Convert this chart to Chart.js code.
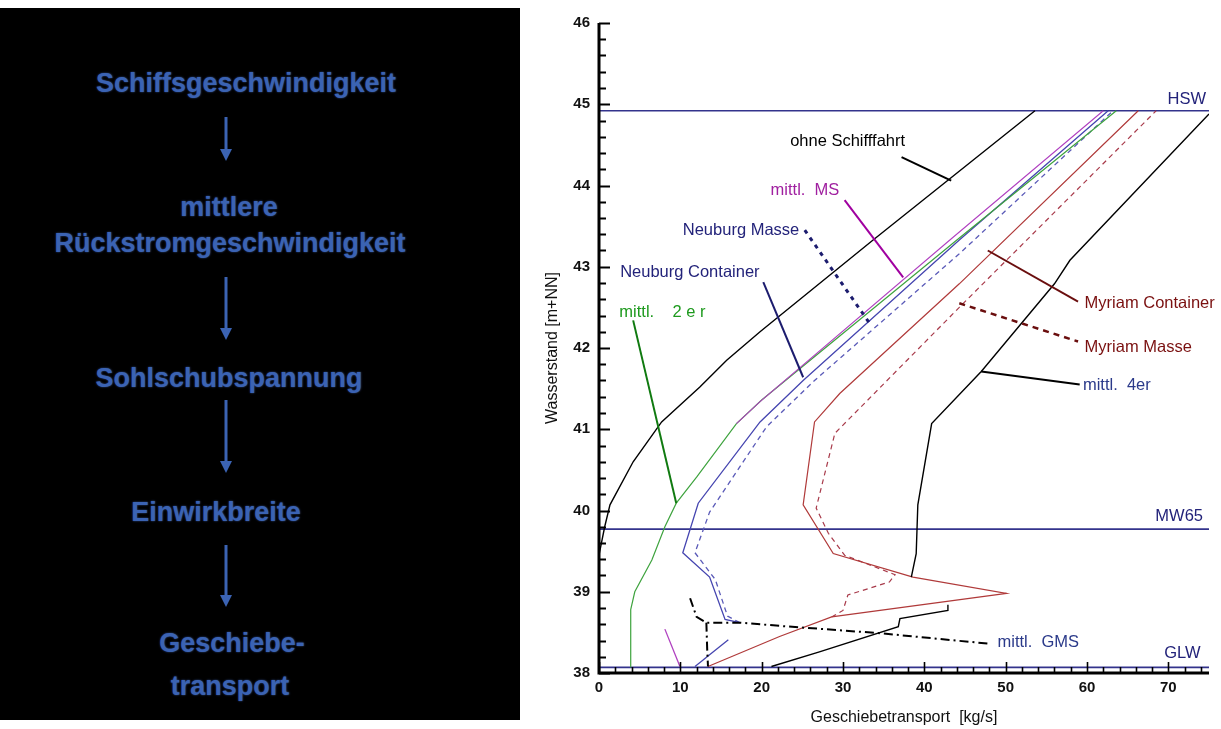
<!DOCTYPE html>
<html>
<head>
<meta charset="utf-8">
<script src="https://cdn.jsdelivr.net/npm/chart.js@4.4.1/dist/chart.umd.min.js"></script>
<style>
  html, body { margin: 0; padding: 0; background: #fff; width: 1221px; height: 729px; overflow: hidden;
    font-family: "Liberation Sans", Arial, sans-serif; }
  #panel { position: absolute; left: 0; top: 8px; width: 520px; height: 712px; background: #000; }
  .step { position: absolute; width: 500px; text-align: center; font-weight: bold; font-size: 27px;
    line-height: 27px; color: #3b63b3; white-space: nowrap; text-shadow: 0 0 2px rgba(70, 110, 200, 0.75); }
  #arrows { position: absolute; left: 0; top: 0; }
  #chartBox { position: absolute; left: 530px; top: 0; width: 691px; height: 729px; }
</style>
</head>
<body>
<div id="panel"></div>
<div class="step" style="left:-4px; top:70px;">Schiffsgeschwindigkeit</div>
<div class="step" style="left:-21px; top:194px;">mittlere</div>
<div class="step" style="left:-20px; top:230px;">Rückstromgeschwindigkeit</div>
<div class="step" style="left:-21px; top:365px;">Sohlschubspannung</div>
<div class="step" style="left:-34px; top:499px;">Einwirkbreite</div>
<div class="step" style="left:-18px; top:630px;">Geschiebe-</div>
<div class="step" style="left:-20px; top:673px;">transport</div>
<svg id="arrows" width="520" height="729">
  <g stroke="#3b63b3" stroke-width="3" fill="#3b63b3">
    <line x1="226" y1="117" x2="226" y2="150"/><polygon points="220,149 232,149 226,161" stroke="none"/>
    <line x1="226" y1="277" x2="226" y2="329"/><polygon points="220,328 232,328 226,340" stroke="none"/>
    <line x1="226" y1="400" x2="226" y2="462"/><polygon points="220,461 232,461 226,473" stroke="none"/>
    <line x1="226" y1="545" x2="226" y2="596"/><polygon points="220,595 232,595 226,607" stroke="none"/>
  </g>
</svg>
<div id="chartBox"><canvas id="c" width="691" height="729"></canvas></div>
<script>
// Geschiebetransport [kg/s] vs. Wasserstand [m+NN], each point = [transport, wasserstand]
const ohneSchifffahrt = [[0,39.45],[0.7,39.8],[1.35,40.07],[4.2,40.6],[7.7,41.09],[12.4,41.52],[15.7,41.85],[19.8,42.2],[33.7,43.33],[53.6,44.92]];
const mittlMS = [[16.9,41.07],[19.8,41.34],[43.5,43.36],[62.0,44.92]];
const mittlMSUnten = [[8.1,38.54],[9.95,38.08]];
const mittl2er = [[3.9,38.07],[3.9,38.78],[4.4,39.0],[6.5,39.39],[8.1,39.8],[9.5,40.09],[12.0,40.41],[16.9,41.07],[20.0,41.36],[44.0,43.33],[63.6,44.92]];
const neuburgContainer = [[17.3,38.62],[15.5,38.66],[13.6,39.18],[10.3,39.48],[12.2,40.09],[19.8,41.09],[25.1,41.6],[44.3,43.33],[62.6,44.92]];
const neuburgContainerUnten = [[11.8,38.08],[15.9,38.41]];
const neuburgMasse = [[17.3,38.62],[15.8,38.7],[14.3,39.15],[11.8,39.48],[13.6,39.98],[20.6,41.03],[26.5,41.6],[44.3,43.16],[63.2,44.92]];
const myriamContainer = [[13.4,38.08],[22.2,38.45],[28.6,38.69],[50.1,38.98],[38.6,39.18],[28.8,39.47],[25.1,40.07],[26.5,41.09],[29.6,41.44],[44.3,42.79],[66.3,44.92]];
const myriamMasse = [[28.6,38.69],[30.0,38.77],[30.6,38.96],[35.7,39.12],[36.4,39.21],[30.2,39.45],[28.2,39.72],[26.7,40.03],[29.0,40.95],[44.3,42.5],[68.5,44.92]];
const mittl4er = [[38.4,39.18],[39.0,39.47],[39.2,40.07],[40.9,41.07],[47.0,41.71],[56.0,42.79],[57.9,43.08],[75.0,44.88]];
const mittl4erUnten = [[21.2,38.08],[27.1,38.26],[36.8,38.57],[37.0,38.67],[42.9,38.77],[42.9,38.84]];
const mittlGMS = [[11.2,38.92],[12.0,38.69],[13.2,38.62],[17.3,38.62],[22.2,38.58],[34.5,38.49],[48.0,38.36]];
const mittlGMSAst = [[13.2,38.62],[13.3,38.3],[13.4,38.08]];

// characteristic water levels [m+NN]
const HSW = 44.92, MW65 = 39.77, GLW = 38.07;

// axis ranges and labelled ticks
const xRange = [0, 75], yRange = [38, 46];
const xTickStep = 10, yTickStep = 1, xMinorStep = 2, yMinorStep = 0.2;

// leader lines from the curve names to their curves (data units)
const leaders = [
  { pts: [[37.2,44.35],[43.3,44.06]], color: '#000000', width: 2, dash: [] },
  { pts: [[30.2,43.82],[37.4,42.87]], color: '#a000a0', width: 2, dash: [] },
  { pts: [[25.3,43.45],[33.3,42.30]], color: '#1c1c6e', width: 3, dash: [4,5] },
  { pts: [[20.2,42.81],[25.1,41.64]], color: '#1c1c6e', width: 2, dash: [] },
  { pts: [[4.2,42.34],[9.5,40.09]], color: '#107a10', width: 2, dash: [] },
  { pts: [[47.8,43.2],[58.9,42.57]], color: '#6a0e0e', width: 2, dash: [] },
  { pts: [[44.3,42.55],[58.9,42.08]], color: '#6a0e0e', width: 2.5, dash: [6,5] },
  { pts: [[47.0,41.71],[59.1,41.55]], color: '#000000', width: 2, dash: [] }
];

// curve names (left edge / vertical middle, data units)
const names = [
  { text: 'ohne Schifffahrt', x: 23.5, y: 44.54, color: '#000000' },
  { text: 'mittl.  MS', x: 21.1, y: 43.94, color: '#a020a0' },
  { text: 'Neuburg Masse', x: 10.3, y: 43.45, color: '#23237a' },
  { text: 'Neuburg Container', x: 2.6, y: 42.93, color: '#23237a' },
  { text: 'mittl.    2 e r', x: 2.5, y: 42.44, color: '#1e9a1e' },
  { text: 'Myriam Container', x: 59.7, y: 42.55, color: '#7a1010' },
  { text: 'Myriam Masse', x: 59.7, y: 42.01, color: '#7a1010' },
  { text: 'mittl.  4er', x: 59.5, y: 41.54, color: '#2b3a8a' },
  { text: 'mittl.  GMS', x: 49.0, y: 38.37, color: '#2b3a8a' },
  { text: 'HSW', x: 69.9, y: 45.06, color: '#23237a' },
  { text: 'MW65', x: 68.4, y: 39.93, color: '#23237a' },
  { text: 'GLW', x: 69.5, y: 38.24, color: '#23237a' }
];

const toXY = a => a.map(p => ({ x: p[0], y: p[1] }));
function curve(label, data, color, width, dash) {
  return { label, data: toXY(data), borderColor: color, backgroundColor: color, borderWidth: width,
    borderDash: dash || [], showLine: true, pointRadius: 0, pointHoverRadius: 0, fill: false, tension: 0 };
}
function level(label, value) {
  return curve(label, [[xRange[0], value], [xRange[1], value]], '#33338c', 1.7);
}

const datasets = [
  curve('mittl. GMS', mittlGMS, '#000000', 2, [9,4,2,4]),
  curve('mittl. GMS ', mittlGMSAst, '#000000', 2, [9,4,2,4]),
  curve('ohne Schifffahrt', ohneSchifffahrt, '#000000', 1.4),
  curve('mittl. 4er', mittl4er, '#000000', 1.4),
  curve('mittl. 4er ', mittl4erUnten, '#000000', 1.4),
  curve('mittl. MS', mittlMS, '#b040c0', 1.1),
  curve('mittl. MS ', mittlMSUnten, '#b040c0', 1.3),
  curve('mittl. 2er', mittl2er, '#3ea33e', 1.2),
  curve('Neuburg Container', neuburgContainer, '#4545b0', 1.3),
  curve('Neuburg Container ', neuburgContainerUnten, '#4545b0', 1.3),
  curve('Neuburg Masse', neuburgMasse, '#5a5ab8', 1.3, [5,4]),
  curve('Myriam Container', myriamContainer, '#b03a3a', 1.2),
  curve('Myriam Masse', myriamMasse, '#a83a4a', 1.2, [5,4]),
  level('HSW', HSW),
  level('MW65', MW65),
  level('GLW', GLW)
];
leaders.forEach((l, i) => datasets.unshift(curve('leader' + i, l.pts, l.color, l.width, l.dash)));

// axis frame with inward tick marks, and the curve names
const frame = {
  id: 'frame',
  afterDatasetsDraw(chart) {
    const { ctx, chartArea: a, scales: { x, y } } = chart;
    ctx.save();
    ctx.strokeStyle = '#000';
    ctx.lineWidth = 2;
    const nY = Math.round((yRange[1] - yRange[0]) / yMinorStep);
    for (let i = 0; i <= nY; i++) {
      const v = yRange[0] + i * yMinorStep;
      const py = Math.round(y.getPixelForValue(v)) + 0.5;
      const len = (i % 5 === 0) ? 11 : 7;
      ctx.beginPath(); ctx.moveTo(a.left, py); ctx.lineTo(a.left + len, py); ctx.stroke();
    }
    ctx.lineWidth = 1.6;
    const nX = Math.floor((xRange[1] - xRange[0]) / xMinorStep);
    for (let i = 0; i <= nX; i++) {
      const v = xRange[0] + i * xMinorStep;
      const px = Math.round(x.getPixelForValue(v)) + 0.5;
      const len = (v % xTickStep === 0) ? 11 : 6;
      ctx.beginPath(); ctx.moveTo(px, a.bottom); ctx.lineTo(px, a.bottom - len); ctx.stroke();
    }
    ctx.lineWidth = 3;
    ctx.beginPath();
    ctx.moveTo(a.left, a.top); ctx.lineTo(a.left, a.bottom); ctx.lineTo(a.right, a.bottom);
    ctx.stroke();

    ctx.font = '16.5px "Liberation Sans", Arial, sans-serif';
    ctx.textAlign = 'left';
    ctx.textBaseline = 'middle';
    names.forEach(n => {
      ctx.fillStyle = n.color;
      ctx.fillText(n.text, x.getPixelForValue(n.x), y.getPixelForValue(n.y));
    });
    ctx.restore();
  }
};

const tickFont = { family: '"Liberation Sans", Arial, sans-serif', size: 15, weight: 'bold' };
const titleFont = { family: '"Liberation Sans", Arial, sans-serif', size: 16 };

new Chart(document.getElementById('c'), {
  type: 'scatter',
  data: { datasets },
  plugins: [frame],
  options: {
    responsive: false,
    animation: false,
    devicePixelRatio: 1,
    layout: { padding: { left: 0, right: 12, top: 23, bottom: 0 } },
    plugins: { legend: { display: false }, tooltip: { enabled: false } },
    scales: {
      x: {
        type: 'linear', min: xRange[0], max: xRange[1],
        grid: { display: false, drawTicks: false, tickLength: 0 },
        border: { display: false },
        ticks: { stepSize: xTickStep, includeBounds: false, color: '#111', font: tickFont, padding: 6, maxRotation: 0 },
        title: { display: true, text: 'Geschiebetransport  [kg/s]', color: '#111', font: titleFont, padding: { top: 0, bottom: 2 } },
        afterFit(s) { s.height = 56; }
      },
      y: {
        type: 'linear', min: yRange[0], max: yRange[1],
        grid: { display: false, drawTicks: false, tickLength: 0 },
        border: { display: false },
        ticks: { stepSize: yTickStep, includeBounds: false, color: '#111', font: tickFont, padding: 9 },
        title: { display: true, text: 'Wasserstand [m+NN]', color: '#111', font: titleFont, padding: { top: 13, bottom: 0 } },
        afterFit(s) { s.width = 69; }
      }
    }
  }
});
</script>
</body>
</html>
